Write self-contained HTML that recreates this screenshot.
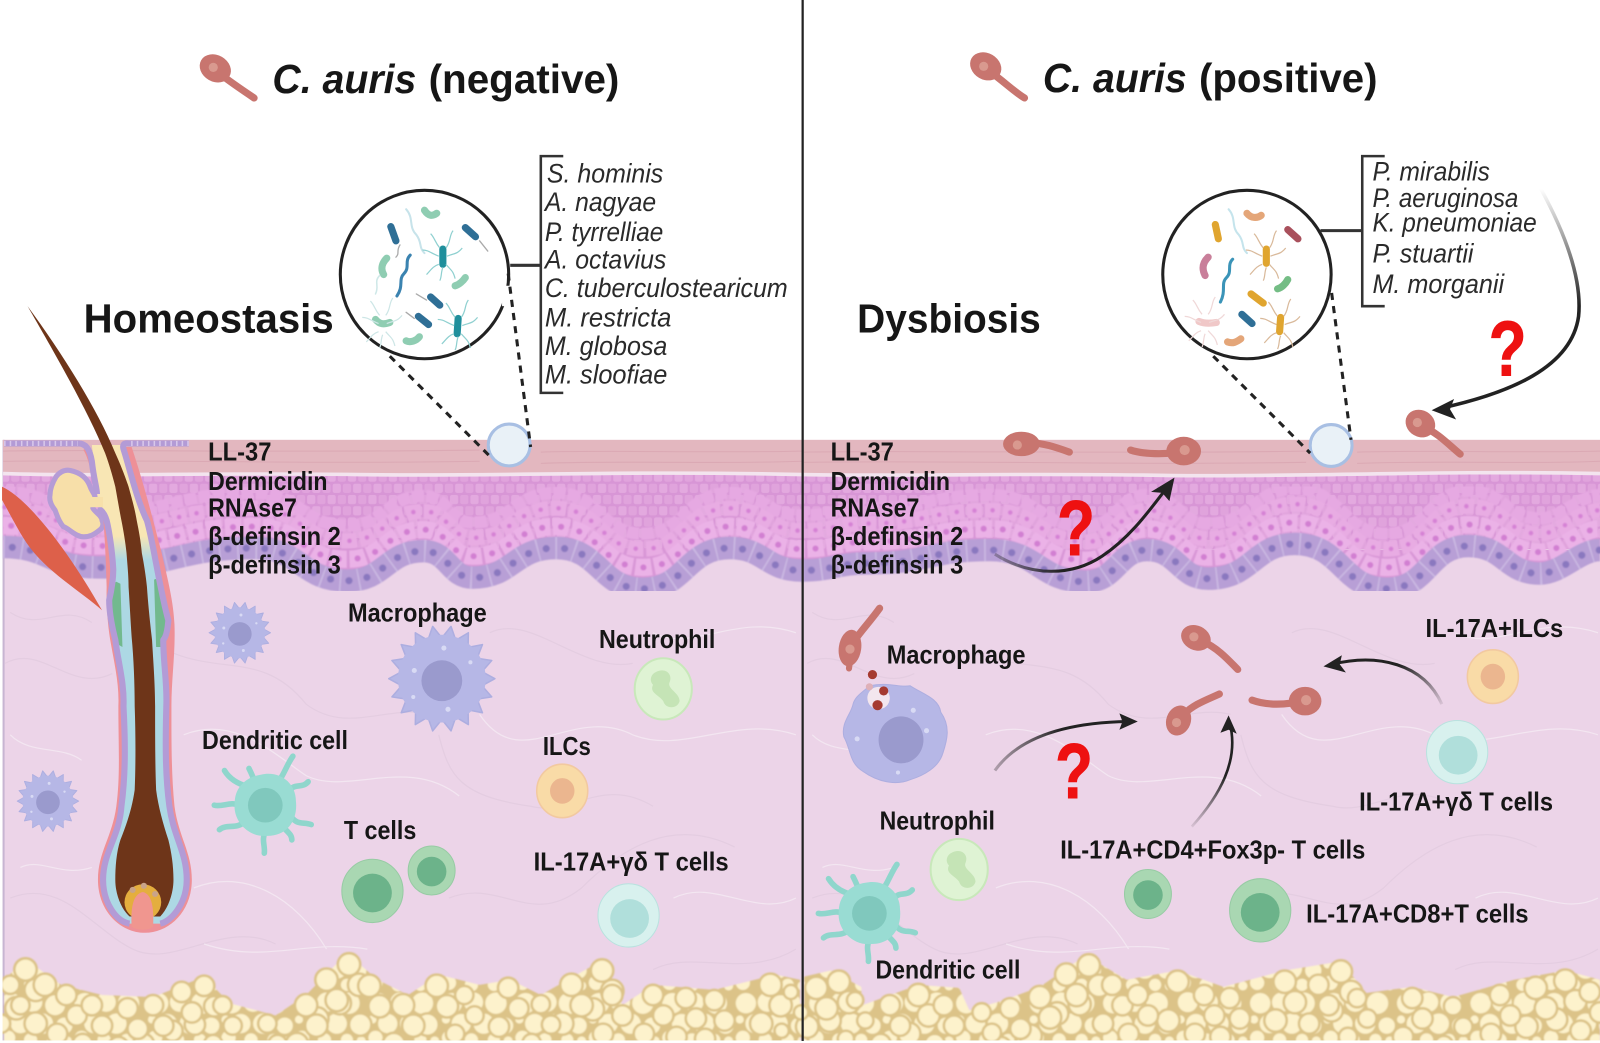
<!DOCTYPE html>
<html>
<head>
<meta charset="utf-8">
<title>C. auris skin diagram</title>
<style>
html,body{margin:0;padding:0;background:#fff;}
svg{display:block;}
text{font-family:"Liberation Sans",sans-serif;fill:#161616;}
.b{font-weight:bold;font-size:25px;}
.s{font-style:italic;font-size:26px;fill:#2a2a2a;}
.t{font-weight:bold;font-size:40px;}
.q{font-weight:bold;font-size:76px;fill:#ee1111;stroke:#ee1111;stroke-width:1px;}
</style>
</head>
<body>
<svg width="1600" height="1043" viewBox="0 0 1568 1022" preserveAspectRatio="none" xmlns="http://www.w3.org/2000/svg">
<defs>
  <filter id="soft" x="-2%" y="-2%" width="104%" height="104%"><feGaussianBlur stdDeviation="0.7"/></filter>
  <pattern id="fat" width="72" height="54" patternUnits="userSpaceOnUse">
    <rect width="72" height="54" fill="#dcc388"/>
    <g fill="#fdf2cc">
      <circle cx="11" cy="11" r="10"/><circle cx="32" cy="10" r="9.5"/><circle cx="54" cy="11" r="10.5"/>
      <circle cx="20" cy="31" r="9.5"/><circle cx="42" cy="31" r="10"/><circle cx="63" cy="33" r="8"/>
      <circle cx="8" cy="45" r="7"/><circle cx="30" cy="47" r="6.5"/><circle cx="52" cy="47" r="6"/>
      <circle cx="66" cy="48" r="4.5"/><circle cx="5" cy="27" r="4"/>
    </g>
  </pattern>
  <pattern id="cells" width="20" height="22" patternUnits="userSpaceOnUse">
    <rect width="20" height="22" fill="#d896d6"/>
    <rect x="1" y="1" width="8" height="9" rx="2" fill="#e3a9df"/>
    <rect x="11" y="1" width="8" height="9" rx="2" fill="#e0a3dc"/>
    <rect x="-4" y="12" width="8" height="9" rx="2" fill="#e0a3dc"/>
    <rect x="6" y="12" width="8" height="9" rx="2" fill="#e3a9df"/>
    <rect x="16" y="12" width="8" height="9" rx="2" fill="#e0a3dc"/>
  </pattern>
  <linearGradient id="fol" x1="0" y1="430" x2="0" y2="600" gradientUnits="userSpaceOnUse">
    <stop offset="0" stop-color="#f8e6b4"/><stop offset=".56" stop-color="#f8e6b4"/><stop offset=".7" stop-color="#add8e4"/>
  </linearGradient>
  <linearGradient id="fade1" x1="0" y1="185" x2="0" y2="300" gradientUnits="userSpaceOnUse">
    <stop offset="0" stop-color="#222" stop-opacity="0"/><stop offset="1" stop-color="#222"/>
  </linearGradient>
  <linearGradient id="fade2" x1="975" y1="0" x2="1040" y2="0" gradientUnits="userSpaceOnUse">
    <stop offset="0" stop-color="#222" stop-opacity=".3"/><stop offset="1" stop-color="#222"/>
  </linearGradient>
  <linearGradient id="fade3" x1="1413" y1="690" x2="1380" y2="645" gradientUnits="userSpaceOnUse">
    <stop offset="0" stop-color="#222" stop-opacity=".1"/><stop offset="1" stop-color="#222"/>
  </linearGradient>
  <linearGradient id="fade4" x1="0" y1="810" x2="0" y2="760" gradientUnits="userSpaceOnUse">
    <stop offset="0" stop-color="#222" stop-opacity=".1"/><stop offset="1" stop-color="#222"/>
  </linearGradient>
  <path id="w" d="M3,536 C48,536 48,556 95,556 C172,556 172,537 250,537 C295,537 295,569 340,569 C378,569 378,540 415,540 C440,540 440,566 463,566 C503,566 503,537 545,537 C588,537 588,577 630,577 C672,577 672,537 715,537 C750,537 750,559 786,559 C816,559 820,552 850,552 C910,552 910,539 970,539 C1018,539 1018,570 1064,570 C1095,570 1095,539 1124,539 C1155,539 1155,567 1184,567 C1228,567 1228,533 1269,533 C1315,533 1315,577 1359,577 C1400,577 1400,535 1439,535 C1475,535 1475,562 1509,562 C1530,562 1548,539 1568,539"/>
  <g id="spiky">
    <path fill="#b6b7e6" stroke="#adaee0" stroke-width="1.5" stroke-linejoin="round" d="M52,0L39.4,6.9L48.9,17.8L34.6,20L39.8,33.4L25.7,30.6L26,45L13.7,37.6L9,51.2L0,40L-9,51.2L-13.7,37.6L-26,45L-25.7,30.6L-39.8,33.4L-34.6,20L-48.9,17.8L-39.4,6.9L-52,0L-39.4,-6.9L-48.9,-17.8L-34.6,-20L-39.8,-33.4L-25.7,-30.6L-26,-45L-13.7,-37.6L-9,-51.2L0,-40L9,-51.2L13.7,-37.6L26,-45L25.7,-30.6L39.8,-33.4L34.6,-20L48.9,-17.8L39.4,-6.9Z"/>
    <circle r="43" fill="#b6b7e6"/>
    <circle r="20" cy="2" fill="#9a9acd"/>
    <g fill="#d8daf4"><circle cx="-27" cy="-8" r="2.5"/><circle cx="2" cy="-30" r="2.5"/><circle cx="28" cy="-16" r="2"/><circle cx="6" cy="30" r="2.5"/><circle cx="-28" cy="18" r="2"/></g>
  </g>
  <g id="dend">
    <g fill="none" stroke="#8fd6cc" stroke-width="5.5" stroke-linecap="round">
      <path d="M10,-20 C18,-28 20,-38 27,-48"/><path d="M24,-14 C28,-22 36,-16 42,-23"/><path d="M26,12 C32,20 38,16 45,19"/>
      <path d="M0,26 C-4,34 0,40 -1,47"/><path d="M-20,16 C-28,24 -38,18 -45,24"/><path d="M-26,0 C-34,-4 -42,2 -50,0"/>
      <path d="M-16,-18 C-24,-20 -34,-24 -40,-34"/><path d="M-10,-22 C-12,-28 -14,-32 -16,-36"/><path d="M20,24 C24,28 26,30 26,34"/>
    </g>
    <path d="M-4,-30 C14,-34 30,-22 30,-4 C32,14 22,30 2,30 C-16,32 -32,16 -30,-2 C-30,-18 -18,-28 -4,-30Z" fill="#99dcd3"/>
    <circle r="17" fill="#80c8bd"/>
  </g>
  <g id="neut">
    <ellipse rx="28" ry="30" fill="#dff3d4" stroke="#c8e8ba" stroke-width="2"/>
    <path d="M-8,-16 C2,-22 10,-14 6,-6 C4,0 16,4 16,12 C14,20 2,20 0,12 C-4,6 -14,4 -10,-4 C-14,-8 -12,-14 -8,-16Z" fill="#c5e4b6"/>
  </g>
  <g id="ilc">
    <ellipse rx="25" ry="25" fill="#f9dba7" stroke="#f2c9a0" stroke-width="1.5"/><circle r="12" fill="#ebb68f"/>
  </g>
  <g id="tbig">
    <ellipse rx="30" ry="31" fill="#a9d7b2" stroke="#97cba4"/><circle cy="2" r="19" fill="#6cb38a"/>
  </g>
  <g id="tsm">
    <ellipse rx="23" ry="24" fill="#a9d7b2" stroke="#97cba4"/><circle cy="1" r="14.5" fill="#6cb38a"/>
  </g>
  <g id="gd">
    <ellipse rx="30" ry="31" fill="#d8f1ee" stroke="#b9e2df"/><circle cx="1" cy="3" r="19" fill="#b0dfdb"/>
  </g>
  <g id="fib" fill="none" stroke-width="1.2">
    <g stroke="#e4cde1">
    <path d="M5,650 C40,630 70,680 110,660 M10,600 C40,620 60,590 90,610"/>
    <path d="M170,640 C220,660 260,640 300,690 C340,720 380,690 420,700"/>
    <path d="M480,620 C520,600 570,660 620,650"/>
    <path d="M430,720 C440,760 450,780 520,790 C560,800 590,760 640,790"/>
    <path d="M10,880 C60,860 90,910 130,930 C170,950 220,900 270,925"/>
    <path d="M440,880 C490,860 520,910 570,870 C610,830 660,800 720,830"/>
    <path d="M640,950 C680,930 730,960 780,930"/>
    </g>
    <g stroke="#f3e6f1">
    <path d="M180,720 C230,700 270,740 300,760 C340,780 400,740 450,780"/>
    <path d="M470,700 C510,760 560,690 620,720 C670,740 720,700 780,720"/>
    <path d="M640,620 C680,640 720,600 780,620"/>
    <path d="M190,870 C240,850 290,880 320,930"/>
    <path d="M660,880 C700,860 740,900 780,880"/>
    <path d="M200,925 C260,945 300,920 360,930"/>
    <path d="M10,720 C30,740 60,730 80,745"/>
    <path d="M20,850 C40,840 60,860 90,850"/>
    </g>
  </g>
  <g id="peri" fill="none" stroke="currentColor" stroke-width="1.2">
    <path d="M-3,-8 C-8,-14 -8,-18 -12,-22 M3,-8 C8,-14 6,-20 10,-25 M-4,0 C-12,-3 -14,-6 -20,-6 M4,0 C12,-3 14,-2 19,-8 M-4,8 C-10,10 -12,14 -16,18 M3,8 C8,14 10,14 12,22 M0,11 C-2,16 -1,20 -3,24"/>
  </g>
  <g id="fc">
    <circle cx="25" cy="950" r="11"/><circle cx="10" cy="965" r="9"/><circle cx="44" cy="965" r="11"/><circle cx="65" cy="975" r="10"/><circle cx="90" cy="985" r="10"/>
    <circle cx="125" cy="988" r="10"/><circle cx="150" cy="985" r="10"/><circle cx="178" cy="972" r="10"/><circle cx="200" cy="966" r="10"/><circle cx="218" cy="985" r="9"/>
    <circle cx="262" cy="1003" r="9"/><circle cx="300" cy="985" r="11"/><circle cx="320" cy="960" r="11"/><circle cx="342" cy="945" r="11"/><circle cx="362" cy="966" r="11"/>
    <circle cx="395" cy="985" r="11"/><circle cx="428" cy="966" r="11"/><circle cx="455" cy="975" r="9"/><circle cx="498" cy="968" r="10"/><circle cx="530" cy="984" r="9"/>
    <circle cx="560" cy="965" r="11"/><circle cx="590" cy="951" r="11"/><circle cx="600" cy="975" r="10"/><circle cx="640" cy="975" r="10"/><circle cx="672" cy="978" r="10"/>
    <circle cx="700" cy="980" r="10"/><circle cx="755" cy="965" r="11"/><circle cx="775" cy="972" r="7"/>
    <circle cx="800" cy="968" r="11"/><circle cx="822" cy="962" r="11"/><circle cx="838" cy="980" r="8"/><circle cx="872" cy="985" r="10"/><circle cx="900" cy="975" r="11"/>
    <circle cx="925" cy="985" r="10"/><circle cx="962" cy="992" r="9"/><circle cx="990" cy="988" r="10"/><circle cx="1019" cy="977" r="11"/><circle cx="1045" cy="955" r="11"/>
    <circle cx="1067" cy="946" r="11"/><circle cx="1090" cy="965" r="10"/><circle cx="1115" cy="975" r="10"/><circle cx="1154" cy="962" r="11"/><circle cx="1180" cy="975" r="10"/>
    <circle cx="1205" cy="978" r="10"/><circle cx="1259" cy="962" r="11"/><circle cx="1292" cy="965" r="10"/><circle cx="1314" cy="952" r="11"/><circle cx="1330" cy="978" r="9"/>
    <circle cx="1384" cy="978" r="10"/><circle cx="1424" cy="986" r="9"/><circle cx="1470" cy="975" r="10"/><circle cx="1505" cy="968" r="11"/><circle cx="1534" cy="961" r="11"/><circle cx="1558" cy="972" r="10"/>
  </g>
</defs>

<rect width="1568" height="1022" fill="#fff"/>

<!-- dermis -->
<rect x="3" y="431" width="1565" height="589" fill="#ecd4e8"/>
<rect x="2.5" y="431" width="2" height="589" fill="#c8b5d2"/>
<use href="#fib"/>
<use href="#fib" transform="translate(786,0)"/>

<!-- fat -->
<g filter="url(#soft)">
  <path fill="url(#fat)" d="M4,1022L4,960L25,940L60,965L100,975L150,977L200,957L225,983L270,995L300,975L340,934L370,960L400,975L430,955L470,965L500,960L530,975L590,941L610,985L640,965L700,970L760,955L784,960L784,1022Z"/>
  <path fill="url(#fat)" d="M788,1022L788,957L814,951L844,967L845,985L900,965L940,968L950,990L984,980L1019,967L1064,936L1104,960L1154,951L1199,967L1259,951L1314,942L1339,973L1384,967L1424,977L1484,960L1534,951L1568,960L1568,1022Z"/>
  <g fill="#fdf2cc" stroke="#dcc388" stroke-width="2.5">
    <use href="#fc" transform="translate(-9,38)"/>
    <use href="#fc" transform="translate(10,20)"/>
    <use href="#fc"/>
  </g>
</g>
<rect x="0" y="1019.5" width="1568" height="3" fill="#fff"/>
<rect x="0" y="930" width="2.5" height="92" fill="#fff"/>

<!-- epidermis -->
<rect x="3" y="460" width="1565" height="78" fill="url(#cells)"/>
<use href="#w" fill="#d896d6"/>
<g filter="url(#soft)">
<g fill="none">
  <use href="#w" transform="translate(0,-54)" stroke="#e6a9e2" stroke-width="12" stroke-dasharray="12 2"/>
  <use href="#w" transform="translate(0,-39)" stroke="#e8ace3" stroke-width="15" stroke-dasharray="15 2.5" stroke-dashoffset="6"/>
  <use href="#w" transform="translate(0,-21)" stroke="#ebb2e7" stroke-width="17" stroke-dasharray="16 2.5"/>
  <use href="#w" transform="translate(0,-39)" stroke="#d682d5" stroke-width="4.5" stroke-linecap="round" stroke-dasharray="0 17.5" stroke-dashoffset="-1.5"/>
  <use href="#w" transform="translate(0,-21)" stroke="#d27fd2" stroke-width="6" stroke-linecap="round" stroke-dasharray="0 18.5" stroke-dashoffset="-8"/>
  <use href="#w" stroke="#b89fd6" stroke-width="22"/>
  <use href="#w" stroke="#ccbae3" stroke-width="22" stroke-dasharray="1.5 16.5"/>
  <use href="#w" stroke="#8a78bf" stroke-width="7" stroke-linecap="round" stroke-dasharray="0 18" stroke-dashoffset="-9"/>
</g>
</g>

<!-- corneum -->
<path fill="#e3b7bf" d="M3,431 L1568,431 L1568,463 C1400,460 1300,466 1150,465 C1000,462 900,466 786,464 C600,460 500,466 350,464 C200,462 100,466 3,463Z"/>
<g stroke="#dba9b4" stroke-width="1" fill="none">
  <path d="M3,442 C100,440 250,444 470,441 M530,443 C600,441 700,444 786,442 M788,443 C900,441 1100,445 1280,442 M1330,443 C1400,441 1500,444 1568,442"/>
  <path d="M3,452 C150,450 300,455 470,452 M530,454 C620,451 700,455 786,452 M788,453 C950,451 1100,456 1280,453 M1330,454 C1420,451 1500,455 1568,452"/>
</g>
<path fill="none" stroke="#f3e4ee" stroke-width="3.5" d="M3,464 C100,467 200,463 350,465 C500,467 600,461 786,465 C900,467 1000,463 1150,466 C1300,467 1400,461 1568,464"/>

<!-- muscle and gland -->
<path d="M2,477 C30,490 70,545 100,598 C80,580 45,560 26,532 C15,515 8,500 2,490Z" fill="#dd604a"/>
<path d="M69,461 C78,463 85,468 88,476 C90,482 93,484 93,487 C93,492 91,494 91,498 C94,503 100,505 100,510 C102,514 100,518 98,519 C92,524 88,526 82,526 C74,526 68,518 62,516 C57,510 56,505 54,500 C50,495 48,490 49,485 C49,478 52,472 55,467 C59,462 64,460 69,461Z" fill="#f7dfa9" stroke="#b59cd6" stroke-width="5" stroke-linejoin="round"/>

<!-- follicle -->
<path fill="#ee9097" d="M101,506 C103,530 104,555 104.5,575 C104,595 106,615 108,627 C112,650 117,670 116,692 C116,730 118,760 114,790 C110,820 96,835 96,862 C96,893 118,914 142,914 C166,914 188,893 188,862 C188,835 175,820 171,790 C168,760 168,730 168,692 C168,665 172,640 171,612 C170,590 165,570 158,540 C150,510 142,477 129,438 L122,438 L100,500Z"/>
<path fill="none" stroke="#ee9097" stroke-width="3" d="M83,440 C88,448 91,462 93,476"/>
<path fill="url(#fol)" d="M90,436 L121,436 C126,455 134,490 144,510 C150,530 156,575 165,608 C164,620 162,625 160,627 C160,650 164,670 163,692 C162,730 162,760 166,790 C170,820 183,835 183,862 C183,885 168,903 157,905 L127,905 C114,903 101,885 101,862 C101,835 117,820 119,790 C123,760 123,730 121,692 C122,670 116,650 113,627 C110,615 107,600 107,588 C110,575 111,565 111,558 C110,540 107,520 104,510 L96,490 Z"/>
<path fill="#72b98e" d="M107,592 C108,580 110,572 114,570 L118,572 L120,634 L113,630 C110,615 108,600 107,592Z M151,568 L156,566 C160,580 164,595 166,608 C164,620 162,628 158,634 L153,634Z"/>
<g fill="none" stroke="#b39bd6" stroke-width="6" stroke-linejoin="round">
  <path d="M4,434.5 H76 C84,434 88,440 90,452 C92,470 95,478 95,484"/>
  <path d="M96,498 C100,500 103,505 104.5,510 C107,520 110,540 111,558 C111,565 110,575 107,588 C107,600 110,615 113,627 C116,650 122,670 121,692 C123,730 123,760 119,790 C117,820 101,835 101,862 C101,885 114,903 127,905"/>
  <path d="M185,434.5 H126 C121,434 120,436 121,440 C126,455 134,490 144,510 C150,530 156,575 165,608 C164,620 162,625 160,627 C160,650 164,670 163,692 C162,730 162,760 166,790 C170,820 183,835 183,862 C183,885 168,903 157,905"/>
</g>
<rect x="88" y="487" width="13" height="10" fill="#f7e0aa"/>
<g fill="none" stroke="#d8c8ea" stroke-width="5" stroke-dasharray="1.5 4">
  <path d="M4,434.5 H76"/><path d="M185,434.5 H126"/>
</g>
<path fill="#6e3519" d="M27,300 C50,340 85,400 103,444 C107,455 110,465 113,477 C115,488 117,500 119,510 C121,520 123,532 124,542 C125,555 126,565 126,575 C127,590 128,610 129,624 C131,645 132,670 132,692 C133,720 133,750 132,774 C129,795 123,810 118,823 C114,835 113,850 113,862 C113,878 120,892 127,898 L157,898 C165,890 170,875 170,862 C170,848 168,835 165,823 C160,808 155,790 153,774 C152,750 152,720 152,692 C152,670 150,645 149,627 C147,610 145,590 144,575 C143,565 141,552 139,542 C138,530 136,520 134,510 C132,498 129,488 126,477 C122,465 118,455 113,444 C95,400 60,345 27,300Z"/>
<ellipse cx="140" cy="884" rx="18" ry="17.5" fill="#e4ae3e"/>
<path d="M129,908 C128,890 130,876 140,874 C149,876 151,890 150,908 C146,912 134,912 129,908Z" fill="#f0968f"/>
<g fill="#c9a489"><circle cx="130" cy="872" r="3"/><circle cx="141" cy="868" r="3"/><circle cx="152" cy="876" r="3"/></g>

<!-- left cells -->
<use href="#spiky" transform="translate(235,620) scale(.58)"/>
<use href="#spiky" transform="translate(47,785) scale(.58)"/>
<use href="#spiky" transform="translate(433,665)"/>
<use href="#dend" transform="translate(260,789)"/>
<use href="#neut" transform="translate(650,675)"/>
<use href="#ilc" transform="translate(551,775) scale(1,1.05)"/>
<use href="#tbig" transform="translate(365,873)"/>
<use href="#tsm" transform="translate(423,853)"/>
<use href="#gd" transform="translate(616,897)"/>

<!-- right cells -->
<path d="M852,672 C872,668 880,674 892,672 C904,680 920,684 922,698 C932,712 928,726 924,738 C920,752 905,760 892,764 C878,770 860,766 846,756 C832,748 834,734 827,722 C824,708 834,700 836,690 C838,682 846,678 852,672Z" fill="#b6b7e6" stroke="#adaee0"/>
<ellipse cx="883" cy="725" rx="22" ry="23" fill="#9a9acd"/>
<circle cx="861" cy="684" r="11" fill="#f3e6ee"/>
<g fill="#a53a30"><circle cx="855" cy="661" r="4.5"/><circle cx="866" cy="677" r="4.5"/><circle cx="860" cy="691" r="5"/></g>
<circle cx="852" cy="673" r="3.5" fill="#dfb0b8"/>
<g fill="#d8daf4"><circle cx="895" cy="696" r="2.5"/><circle cx="908" cy="716" r="2.5"/><circle cx="840" cy="724" r="2.5"/><circle cx="880" cy="757" r="2"/></g>
<use href="#dend" transform="translate(852,895)"/>
<use href="#neut" transform="translate(940,852)"/>
<use href="#ilc" transform="translate(1463,663) scale(1,1.05)"/>
<use href="#gd" transform="translate(1428,737)"/>
<use href="#tsm" transform="translate(1125,876)"/>
<use href="#tbig" transform="translate(1235,892)"/>

<!-- candida -->
<g fill="none" stroke="#c8756f" stroke-width="7" stroke-linecap="round">
  <path d="M215,72 C228,82 240,90 249,96"/>
  <path d="M970,70 C984,80 994,90 1004,96"/>
  <path d="M1010,434 C1022,434 1034,438 1048,443"/>
  <path d="M1150,444 C1135,445 1120,445 1108,441"/>
  <path d="M1395,418 C1410,425 1420,436 1431,445"/>
  <path d="M1178,628 C1195,636 1205,648 1213,656"/>
  <path d="M1160,700 C1170,690 1182,686 1195,680"/>
  <path d="M1265,689 C1250,691 1238,690 1227,686"/>
  <path d="M836,630 C842,620 852,610 862,596"/>
  <path d="M834,640 L832,655" stroke-width="6"/>
</g>
<g fill="#c8756f">
  <ellipse cx="211" cy="67" rx="16" ry="13" transform="rotate(30 211 67)"/>
  <ellipse cx="966" cy="65" rx="16" ry="13" transform="rotate(30 966 65)"/>
  <ellipse cx="1001" cy="435" rx="18" ry="12"/>
  <ellipse cx="1160" cy="442" rx="17" ry="14"/>
  <ellipse cx="1392" cy="415" rx="15" ry="13" transform="rotate(30 1392 415)"/>
  <ellipse cx="1172" cy="625" rx="15" ry="12" transform="rotate(25 1172 625)"/>
  <ellipse cx="1155" cy="706" rx="12" ry="15" transform="rotate(20 1155 706)"/>
  <ellipse cx="1279" cy="687" rx="16" ry="14"/>
  <ellipse cx="833" cy="635" rx="11" ry="18" transform="rotate(8 833 635)"/>
</g>
<g fill="#d9998f">
  <circle cx="209" cy="66" r="4.5"/><circle cx="964" cy="65" r="4.5"/><circle cx="997" cy="436" r="4.5"/><circle cx="1161" cy="441" r="5"/>
  <circle cx="1389" cy="414" r="4.5"/><circle cx="1170" cy="624" r="4.5"/><circle cx="1153" cy="708" r="4.5"/><circle cx="1280" cy="686" r="5"/><circle cx="833" cy="636" r="4.5"/>
</g>

<!-- magnifiers -->
<g fill="#fff" stroke="#222" stroke-width="3">
  <circle cx="416" cy="269" r="82.5"/>
  <circle cx="1222" cy="269" r="82.5"/>
</g>
<rect x="492" y="280" width="12" height="20" fill="#fff"/>
<g fill="#e9f1f7" stroke="#a8bfe3" stroke-width="3">
  <ellipse cx="499" cy="436" rx="20.5" ry="20.5"/>
  <ellipse cx="1304.5" cy="436.5" rx="20.5" ry="20.5"/>
</g>
<g fill="none" stroke="#222" stroke-width="3" stroke-dasharray="7 6">
  <path d="M382,349 L480,447"/><path d="M498,268 L520,438"/>
  <path d="M1189,349 L1284,444"/><path d="M1305,287 L1324,431"/>
</g>

<!-- bacteria left -->
<g fill="none" stroke-linecap="round">
  <g stroke="#2f6f96" stroke-width="7">
    <path d="M383,222 L388,236"/><path d="M456,223 L466,232"/><path d="M422,291 L431,299"/><path d="M410,310 L420,318"/>
  </g>
  <g stroke="#1f8f9c" stroke-width="7"><path d="M434,244 L434,259"/><path d="M449,312 L448,327"/></g>
  <g stroke="#8fcdb2" stroke-width="7">
    <path d="M416,206 C420,212 424,212 428,209"/><path d="M379,253 C374,258 373,264 376,269"/><path d="M446,280 C450,279 454,275 456,272"/>
    <path d="M398,334 C402,336 408,334 411,330"/><path d="M368,313 C372,318 376,318 382,316"/>
  </g>
  <path d="M402,250 C396,256 402,262 396,268 C390,274 396,280 389,290" stroke="#3b83b0" stroke-width="3"/>
  <path d="M398,205 C406,214 400,222 408,230 C414,238 410,242 416,248" stroke="#c7e3ea" stroke-width="2"/>
  <path d="M372,270 C366,276 372,280 368,288" stroke="#cfe8e8" stroke-width="1.5"/>
  <path d="M392,240 C388,246 392,248 388,252 M470,236 L478,246 M408,288 L418,294 M398,306 L406,312" stroke="#aaa" stroke-width="1.3"/>
</g>
<use href="#peri" transform="translate(434,251)" color="#8fd0d0"/>
<use href="#peri" transform="translate(449,319)" color="#8fd0d0"/>
<use href="#peri" transform="translate(375,317)" color="#cde6e6"/>

<!-- bacteria right -->
<g fill="none" stroke-linecap="round">
  <g stroke="#e0a52f" stroke-width="7">
    <path d="M1191,220 L1194,234"/><path d="M1241,244 L1241,258"/><path d="M1226,288 L1238,297"/><path d="M1255,311 L1254,325"/>
  </g>
  <path d="M1262,225 L1272,234" stroke="#a9505c" stroke-width="7"/>
  <path d="M1217,308 L1227,317" stroke="#2f6f96" stroke-width="7"/>
  <path d="M1184,252 C1178,258 1178,264 1181,270" stroke="#c97f9a" stroke-width="7"/>
  <path d="M1252,283 C1256,282 1260,278 1262,274" stroke="#74bd85" stroke-width="7"/>
  <path d="M1222,209 C1226,214 1232,214 1236,211" stroke="#e4a679" stroke-width="7"/>
  <path d="M1203,335 C1208,337 1212,335 1216,332" stroke="#e4a679" stroke-width="7"/>
  <path d="M1175,315 C1180,317 1186,317 1192,316" stroke="#f0c8c8" stroke-width="7"/>
  <path d="M1208,254 C1202,260 1208,266 1202,272 C1196,278 1202,284 1196,296" stroke="#3b94b8" stroke-width="3"/>
  <path d="M1204,205 C1212,214 1206,222 1214,230 C1220,238 1216,242 1222,248" stroke="#c5e4ec" stroke-width="2"/>
</g>
<use href="#peri" transform="translate(1241,251)" color="#d9b99a"/>
<use href="#peri" transform="translate(1255,318)" color="#d9b99a"/>
<use href="#peri" transform="translate(1181,316)" color="#f0d8d8"/>

<!-- brackets -->
<g fill="none" stroke="#333" stroke-width="2.5">
  <path d="M552,153 H530 V385 H552"/><path d="M500,260 H530" stroke-width="3"/>
  <path d="M1357,153 H1335 V300 H1357"/><path d="M1294,226 H1335" stroke-width="3"/>
</g>

<!-- arrows -->
<g fill="none">
  <path d="M1510,185 C1540,240 1550,280 1547,310 C1540,360 1480,385 1412,400" stroke="url(#fade1)" stroke-width="3.5"/>
  <path d="M975,543 C1010,565 1050,565 1080,545 C1110,525 1130,495 1145,476" stroke="url(#fade2)" stroke-width="3"/>
  <path d="M975,755 C1000,720 1050,708 1105,707" stroke="url(#fade2)" stroke-width="3"/>
  <path d="M1168,810 C1195,780 1215,745 1205,708" stroke="url(#fade4)" stroke-width="2.6"/>
  <path d="M1413,690 C1395,650 1350,640 1305,651" stroke="url(#fade3)" stroke-width="3"/>
</g>
<g fill="#222">
  <path d="M1403,402 L1425,391 L1421,401 L1427,411Z"/>
  <path d="M1151,468 L1146,491 L1139,483 L1128,482Z"/>
  <path d="M1115,707 L1097,715 L1100,707 L1097,699Z"/>
  <path d="M1204,701 L1212,719 L1204,715 L1196,718Z"/>
  <path d="M1297,653 L1315,642 L1313,651 L1319,659Z"/>
</g>

<!-- divider -->
<rect x="785.5" y="0" width="2.2" height="1020" fill="#222"/>

<!-- titles -->
<text class="t" x="267" y="91" textLength="141" lengthAdjust="spacingAndGlyphs" style="font-style:italic">C. auris</text>
<text class="t" x="420" y="91" textLength="187" lengthAdjust="spacingAndGlyphs">(negative)</text>
<text class="t" x="1022" y="90" textLength="141" lengthAdjust="spacingAndGlyphs" style="font-style:italic">C. auris</text>
<text class="t" x="1175" y="90" textLength="175" lengthAdjust="spacingAndGlyphs">(positive)</text>
<text class="t" x="82" y="326" textLength="245" lengthAdjust="spacingAndGlyphs">Homeostasis</text>
<text class="t" x="840" y="326" textLength="180" lengthAdjust="spacingAndGlyphs">Dysbiosis</text>

<!-- species -->
<text class="s" x="536" y="179" textLength="114" lengthAdjust="spacingAndGlyphs">S. hominis</text>
<text class="s" x="534" y="207" textLength="109" lengthAdjust="spacingAndGlyphs">A. nagyae</text>
<text class="s" x="534" y="236" textLength="116" lengthAdjust="spacingAndGlyphs">P. tyrrelliae</text>
<text class="s" x="534" y="263" textLength="119" lengthAdjust="spacingAndGlyphs">A. octavius</text>
<text class="s" x="534" y="291" textLength="238" lengthAdjust="spacingAndGlyphs">C. tuberculostearicum</text>
<text class="s" x="534" y="320" textLength="124" lengthAdjust="spacingAndGlyphs">M. restricta</text>
<text class="s" x="534" y="348" textLength="120" lengthAdjust="spacingAndGlyphs">M. globosa</text>
<text class="s" x="534" y="376" textLength="120" lengthAdjust="spacingAndGlyphs">M. sloofiae</text>
<text class="s" x="1345" y="177" textLength="115" lengthAdjust="spacingAndGlyphs">P. mirabilis</text>
<text class="s" x="1345" y="203" textLength="143" lengthAdjust="spacingAndGlyphs">P. aeruginosa</text>
<text class="s" x="1345" y="227" textLength="161" lengthAdjust="spacingAndGlyphs">K. pneumoniae</text>
<text class="s" x="1345" y="257" textLength="99" lengthAdjust="spacingAndGlyphs">P. stuartii</text>
<text class="s" x="1345" y="287" textLength="129" lengthAdjust="spacingAndGlyphs">M. morganii</text>

<!-- labels -->
<text class="b" x="204" y="451" textLength="62" lengthAdjust="spacingAndGlyphs">LL-37</text>
<text class="b" x="204" y="480" textLength="117" lengthAdjust="spacingAndGlyphs">Dermicidin</text>
<text class="b" x="204" y="506" textLength="87" lengthAdjust="spacingAndGlyphs">RNAse7</text>
<text class="b" x="204" y="534" textLength="130" lengthAdjust="spacingAndGlyphs">β-definsin 2</text>
<text class="b" x="204" y="562" textLength="130" lengthAdjust="spacingAndGlyphs">β-definsin 3</text>
<text class="b" x="814" y="451" textLength="62" lengthAdjust="spacingAndGlyphs">LL-37</text>
<text class="b" x="814" y="480" textLength="117" lengthAdjust="spacingAndGlyphs">Dermicidin</text>
<text class="b" x="814" y="506" textLength="87" lengthAdjust="spacingAndGlyphs">RNAse7</text>
<text class="b" x="814" y="534" textLength="130" lengthAdjust="spacingAndGlyphs">β-definsin 2</text>
<text class="b" x="814" y="562" textLength="130" lengthAdjust="spacingAndGlyphs">β-definsin 3</text>

<text class="b" x="341" y="609" textLength="136" lengthAdjust="spacingAndGlyphs">Macrophage</text>
<text class="b" x="587" y="635" textLength="114" lengthAdjust="spacingAndGlyphs">Neutrophil</text>
<text class="b" x="198" y="734" textLength="143" lengthAdjust="spacingAndGlyphs">Dendritic cell</text>
<text class="b" x="532" y="740" textLength="47" lengthAdjust="spacingAndGlyphs">ILCs</text>
<text class="b" x="337" y="822" textLength="71" lengthAdjust="spacingAndGlyphs">T cells</text>
<text class="b" x="523" y="853" textLength="191" lengthAdjust="spacingAndGlyphs">IL-17A+γδ T cells</text>

<text class="b" x="869" y="650" textLength="136" lengthAdjust="spacingAndGlyphs">Macrophage</text>
<text class="b" x="1397" y="624" textLength="135" lengthAdjust="spacingAndGlyphs">IL-17A+ILCs</text>
<text class="b" x="1332" y="794" textLength="190" lengthAdjust="spacingAndGlyphs">IL-17A+γδ T cells</text>
<text class="b" x="862" y="813" textLength="113" lengthAdjust="spacingAndGlyphs">Neutrophil</text>
<text class="b" x="1039" y="841" textLength="299" lengthAdjust="spacingAndGlyphs">IL-17A+CD4+Fox3p- T cells</text>
<text class="b" x="1280" y="904" textLength="218" lengthAdjust="spacingAndGlyphs">IL-17A+CD8+T cells</text>
<text class="b" x="858" y="959" textLength="142" lengthAdjust="spacingAndGlyphs">Dendritic cell</text>

<!-- question marks -->
<text class="q" x="1459" y="368" textLength="37" lengthAdjust="spacingAndGlyphs">?</text>
<text class="q" x="1036" y="544" textLength="37" lengthAdjust="spacingAndGlyphs">?</text>
<text class="q" x="1034" y="782" textLength="37" lengthAdjust="spacingAndGlyphs">?</text>
</svg>
</body>
</html>
